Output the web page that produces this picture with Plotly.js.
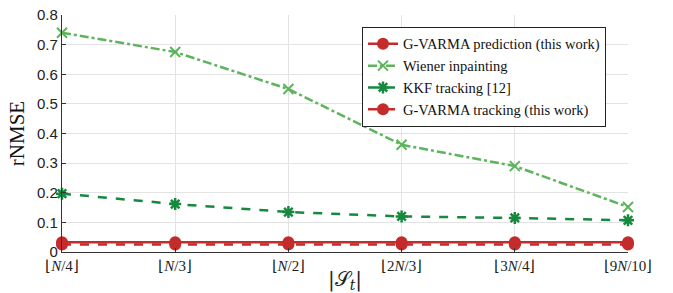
<!DOCTYPE html>
<html><head><meta charset="utf-8">
<script src="https://cdn.plot.ly/plotly-3.0.1.min.js"></script>
<style>html,body{margin:0;padding:0;background:#fff;}#chart{width:673px;height:293px;}</style>
</head><body><div id="chart"></div>
<script>
const categories = ["⌊<i>N</i>/4⌋","⌊<i>N</i>/3⌋","⌊<i>N</i>/2⌋","⌊2<i>N</i>/3⌋","⌊3<i>N</i>/4⌋","⌊9<i>N</i>/10⌋"];
const xIdx = [0,1,2,3,4,5];
const gvarmaPred = [0.033,0.033,0.033,0.033,0.033,0.033];
const wiener = [0.74,0.675,0.55,0.362,0.29,0.152];
const kkf = [0.197,0.162,0.135,0.12,0.115,0.107];
const gvarmaTrack = [0.025,0.025,0.025,0.025,0.025,0.025];
const yTicks = [0,0.1,0.2,0.3,0.4,0.5,0.6,0.7,0.8];

const red = '#c42b2b', lgreen = '#5db45d', dgreen = '#17893f';
const serif = '"Liberation Serif", "Times New Roman", serif';
const traces = [
 {x:xIdx,y:gvarmaPred,name:'G-VARMA prediction (this work)',mode:'lines+markers',cliponaxis:false,
  line:{color:red,width:2.5},marker:{symbol:'circle',size:12,color:red}},
 {x:xIdx,y:wiener,name:'Wiener inpainting',mode:'lines+markers',cliponaxis:false,
  line:{color:lgreen,width:2.5,dash:'dashdot'},marker:{symbol:'x-thin-open',size:10,line:{color:lgreen,width:2}}},
 {x:xIdx,y:kkf,name:'KKF tracking [12]',mode:'lines+markers',cliponaxis:false,
  line:{color:dgreen,width:2.5,dash:'dash'},marker:{symbol:'asterisk-open',size:10,line:{color:dgreen,width:2.5}}},
 {x:xIdx,y:gvarmaTrack,name:'G-VARMA tracking (this work)',mode:'lines+markers',cliponaxis:false,
  line:{color:red,width:2.5,dash:'dash'},marker:{symbol:'circle',size:12,color:red}}
];
const layout = {
 width:673,height:293,margin:{l:62,r:45,t:15,b:41},
 paper_bgcolor:'#fff',plot_bgcolor:'#fff',showlegend:true,
 font:{family:'"Liberation Sans", Arial, sans-serif',size:14,color:'#222'},
 xaxis:{range:[0,5],tickvals:xIdx,ticktext:categories,showgrid:true,gridcolor:'#e3e3e3',
  showline:true,linecolor:'#333',linewidth:1.2,ticks:'inside',ticklen:4,tickcolor:'#333',zeroline:false,
  tickfont:{family:serif,size:15,color:'#222'},
  title:{text:'|𝒮<sub><i>t</i></sub>|',font:{family:'"DejaVu Serif", serif',size:20,color:'#222'},standoff:4}},
 yaxis:{range:[0,0.8],tickvals:yTicks,ticktext:['0','0.1','0.2','0.3','0.4','0.5','0.6','0.7','0.8'],
  showgrid:true,gridcolor:'#e3e3e3',showline:true,linecolor:'#333',linewidth:1.2,ticks:'inside',ticklen:4,tickcolor:'#333',zeroline:false,
  tickfont:{family:'"Liberation Sans", Arial, sans-serif',size:15,color:'#222'},
  title:{text:'rNMSE',font:{family:serif,size:21,color:'#111'},standoff:6}},
 legend:{x:0.53,y:0.95,xanchor:'left',yanchor:'top',bgcolor:'#fff',bordercolor:'#222',borderwidth:1,
  font:{family:serif,size:14.5,color:'#111'},tracegroupgap:0,itemwidth:30}
};
Plotly.newPlot('chart',traces,layout,{displayModeBar:false,staticPlot:true});
</script></body></html>
